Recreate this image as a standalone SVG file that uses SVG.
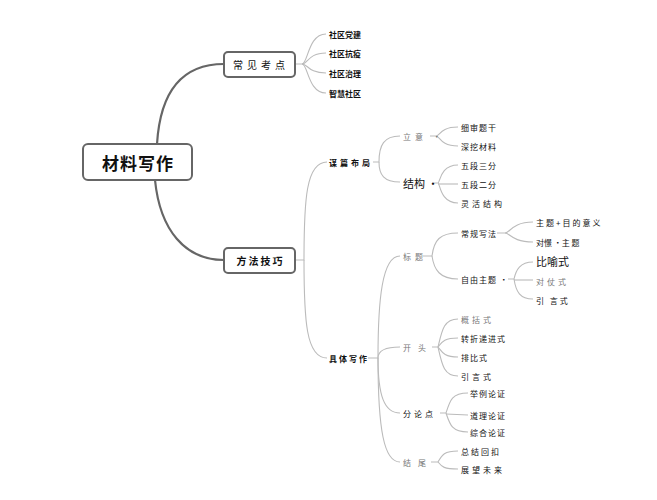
<svg xmlns="http://www.w3.org/2000/svg" width="657" height="500" viewBox="0 0 657 500">
<style>
text{font-family:"Noto Sans CJK SC","Noto Sans",sans-serif;dominant-baseline:central;fill:#111}
.box{fill:#fff;stroke:#666;stroke-width:2}
.main{stroke:#666;stroke-width:2.2;fill:none}
.thin{stroke:#bbb;stroke-width:1.1;fill:none}
.s{font-size:8px}
.b{font-weight:bold}
.g{fill:#777}
.m{font-size:11px}
</style>
<rect width="657" height="500" fill="#fff"/>
<g id="connectors">
<path class="main" d="M157,144 C160,95 180,64 224,64"/>
<path class="main" d="M155,180 C160,230 185,260 224,260"/>
<path class="thin" d="M295,64 L302,64 C308,64 308,34 326,34"/>
<path class="thin" d="M302,64 C308,64 308,53 326,53"/>
<path class="thin" d="M302,64 C308,64 308,73 326,73"/>
<path class="thin" d="M302,64 C308,64 308,93 326,93"/>
<path class="thin" d="M295,260 L304,260 C304,200 306,162 327,162"/>
<path class="thin" d="M304,260 C304,320 306,358 327,358"/>
<path class="thin" d="M373,162 L379,162 C379,145 384,136 400,136"/>
<path class="thin" d="M379,162 C379,175 384,182 400,182"/>
<path class="thin" d="M430,136 L436,136 C440,136 440,127 458,127"/>
<path class="thin" d="M436,136 C440,136 440,146 458,146"/>
<path class="thin" d="M432,183 L438,183 C440,183 440,165 458,165"/>
<path class="thin" d="M438,184 L458,184"/>
<path class="thin" d="M438,183 C440,183 440,203 458,203"/>
<path class="thin" d="M368,358 L378,358 C378,300 382,256 400,256"/>
<path class="thin" d="M378,358 C378,352 384,347 400,347"/>
<path class="thin" d="M378,358 C378,395 384,413 400,413"/>
<path class="thin" d="M378,358 C378,430 384,462 400,462"/>
<path class="thin" d="M423,256 L432,256 C434,240 440,233 458,233"/>
<path class="thin" d="M432,256 C434,270 440,279 458,279"/>
<path class="thin" d="M497,233 L505,233 C510,233 512,222 533,222"/>
<path class="thin" d="M505,233 C510,233 512,242 533,242"/>
<path class="thin" d="M508,279 L514,279 C516,270 520,262 533,262"/>
<path class="thin" d="M514,280 L533,280"/>
<path class="thin" d="M514,279 C516,292 520,299 533,299"/>
<path class="thin" d="M432,347 L438,347 C442,330 444,319 458,319"/>
<path class="thin" d="M438,347 C442,342 444,338 458,338"/>
<path class="thin" d="M438,347 C442,352 444,357 458,357"/>
<path class="thin" d="M438,347 C442,365 444,376 458,376"/>
<path class="thin" d="M440,413 L446,413 C450,400 452,393 468,393"/>
<path class="thin" d="M446,414 L468,415"/>
<path class="thin" d="M446,413 C450,425 452,432 468,432"/>
<path class="thin" d="M431,462 L438,462 C442,455 444,451 458,451"/>
<path class="thin" d="M438,462 C442,467 444,469 458,469"/>
</g>
<g id="root"><rect class="box" x="83" y="144" width="109" height="36" rx="5"/><text x="138" y="162" font-size="17" font-weight="bold" text-anchor="middle" style="letter-spacing:1px">材料写作</text></g>
<g id="n-kaodian"><rect class="box" x="224" y="52" width="71" height="25" rx="4"/><text x="261" y="64.5" font-size="10" text-anchor="middle" style="letter-spacing:4px">常见考点</text></g>
<g id="n-fangfa"><rect class="box" x="224" y="248" width="71" height="25" rx="4"/><text x="260.5" y="260.5" font-size="10" font-weight="bold" text-anchor="middle" style="letter-spacing:2px">方法技巧</text></g>
<g id="n-k1"><text class="s b" x="329" y="34">社区党建</text></g>
<g id="n-k2"><text class="s b" x="329" y="53">社区抗疫</text></g>
<g id="n-k3"><text class="s b" x="329" y="73">社区治理</text></g>
<g id="n-k4"><text class="s b" x="329" y="93">智慧社区</text></g>
<g id="n-moupian"><text class="s b" x="329" y="162" style="letter-spacing:3px">谋篇布局</text></g>
<g id="n-liyi"><text class="s g" x="403" y="136" style="letter-spacing:4px">立意 ·</text></g>
<g id="n-l1"><text class="s" x="461" y="127" style="letter-spacing:1px">细审题干</text></g>
<g id="n-l2"><text class="s" x="461" y="146" style="letter-spacing:1px">深挖材料</text></g>
<g id="n-jiegou"><text class="m" x="403" y="183">结构 •</text></g>
<g id="n-j1"><text class="s" x="461" y="165" style="letter-spacing:1px">五段三分</text></g>
<g id="n-j2"><text class="s" x="461" y="184" style="letter-spacing:1px">五段二分</text></g>
<g id="n-j3"><text class="s" x="461" y="203" style="letter-spacing:3px">灵活结构</text></g>
<g id="n-juti"><text class="s b" x="329" y="358" style="letter-spacing:2px">具体写作</text></g>
<g id="n-biaoti"><text class="s g" x="403" y="256" style="letter-spacing:4px">标题</text></g>
<g id="n-changgui"><text class="s" x="461" y="233" style="letter-spacing:1px">常规写法</text></g>
<g id="n-c1"><text class="s" x="536" y="222" style="letter-spacing:2px">主题+目的意义</text></g>
<g id="n-c2"><text class="s" x="536" y="242">对憬 ·主 题</text></g>
<g id="n-ziyou"><text class="s" x="461" y="279" style="letter-spacing:1px">自由主题 ·</text></g>
<g id="n-z1"><text class="m" x="536" y="261">比喻式</text></g>
<g id="n-z2"><text class="s g" x="536" y="281" style="letter-spacing:3px">对仗式</text></g>
<g id="n-z3"><text class="s" x="536" y="300" style="letter-spacing:2px">引 言式</text></g>
<g id="n-kaitou"><text class="s g" x="403" y="347" style="letter-spacing:7px">开头</text></g>
<g id="n-k-1"><text class="s g" x="461" y="319" style="letter-spacing:3px">概括式</text></g>
<g id="n-k-2"><text class="s" x="461" y="338" style="letter-spacing:1px">转折递进式</text></g>
<g id="n-k-3"><text class="s" x="461" y="357" style="letter-spacing:1px">排比式</text></g>
<g id="n-k-4"><text class="s" x="461" y="376" style="letter-spacing:3px">引言式</text></g>
<g id="n-fenlun"><text class="s" x="403" y="413" style="letter-spacing:3px">分论点</text></g>
<g id="n-f1"><text class="s" x="470" y="393" style="letter-spacing:1px">举例论证</text></g>
<g id="n-f2"><text class="s" x="470" y="415" style="letter-spacing:1px">道理论证</text></g>
<g id="n-f3"><text class="s" x="470" y="432" style="letter-spacing:1px">综合论证</text></g>
<g id="n-jiewei"><text class="s g" x="403" y="462" style="letter-spacing:7px">结尾</text></g>
<g id="n-w1"><text class="s" x="461" y="451" style="letter-spacing:2px">总结回扣</text></g>
<g id="n-w2"><text class="s" x="461" y="469" style="letter-spacing:3px">展望未来</text></g>
</svg>
